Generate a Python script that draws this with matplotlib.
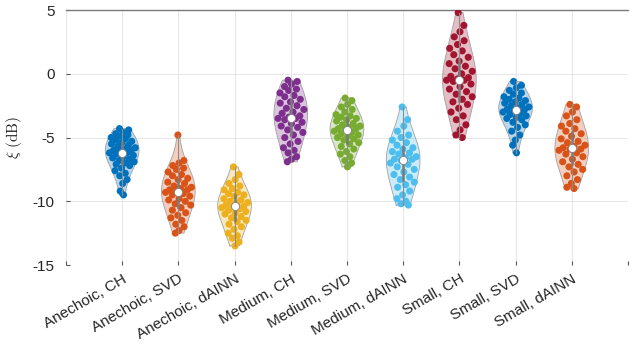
import numpy as np
from matplotlib import pyplot as plt

plt.rcParams['font.family'] = ['Liberation Sans', 'DejaVu Sans']
plt.rcParams['axes.unicode_minus'] = False
plt.rcParams['mathtext.fontset'] = 'cm'

categories = ['Anechoic, CH', 'Anechoic, SVD', 'Anechoic, dAINN',
              'Medium, CH', 'Medium, SVD', 'Medium, dAINN',
              'Small, CH', 'Small, SVD', 'Small, dAINN']

anechoic_ch = [-4.3, -4.4, -4.6, -4.7, -4.8, -4.9, -5.0, -5.1, -5.2, -5.3, -5.4, -5.5, -5.6,
               -5.7, -5.8, -5.9, -6.0, -6.0, -6.1, -6.2, -6.2, -6.3, -6.4, -6.5, -6.6, -6.7,
               -6.8, -6.9, -7.0, -7.1, -7.2, -7.4, -7.6, -7.8, -8.0, -8.3, -8.6, -9.2, -9.5]
anechoic_svd = [-4.8, -6.8, -7.0, -7.2, -7.4, -7.5, -7.7, -7.9, -8.0, -8.2, -8.3, -8.5, -8.6,
                -8.8, -8.9, -9.0, -9.1, -9.1, -9.2, -9.3, -9.4, -9.5, -9.6, -9.8, -9.9, -10.0,
                -10.2, -10.3, -10.5, -10.7, -10.9, -11.1, -11.3, -11.5, -11.8, -12.0, -12.3, -12.5]
anechoic_dainn = [-7.3, -7.9, -8.3, -8.6, -8.8, -9.0, -9.1, -9.3, -9.4, -9.5, -9.6, -9.8, -9.9,
                  -10.0, -10.1, -10.2, -10.3, -10.4, -10.4, -10.5, -10.6, -10.7, -10.8, -10.9,
                  -11.0, -11.2, -11.3, -11.5, -11.6, -11.8, -12.0, -12.2, -12.5, -12.7, -12.9,
                  -13.2, -13.5]
medium_ch = [-0.5, -0.6, -0.8, -1.0, -1.2, -1.3, -1.5, -1.7, -1.8, -2.0, -2.2, -2.3, -2.5,
             -2.7, -2.8, -3.0, -3.1, -3.3, -3.4, -3.5, -3.5, -3.6, -3.8, -3.9, -4.1, -4.2,
             -4.4, -4.6, -4.8, -5.0, -5.3, -5.5, -5.8, -6.0, -6.2, -6.5, -6.7, -6.9]
medium_svd = [-1.9, -2.1, -2.4, -2.6, -2.8, -3.0, -3.2, -3.3, -3.4, -3.5, -3.6, -3.7, -3.9,
              -4.0, -4.1, -4.2, -4.3, -4.3, -4.4, -4.5, -4.6, -4.7, -4.8, -4.9, -5.0, -5.1,
              -5.2, -5.4, -5.5, -5.7, -5.9, -6.1, -6.3, -6.5, -6.8, -7.0, -7.3]
medium_dainn = [-2.6, -3.6, -4.1, -4.5, -4.8, -5.0, -5.2, -5.4, -5.6, -5.8, -5.9, -6.1, -6.2,
                -6.3, -6.5, -6.6, -6.7, -6.7, -6.8, -7.0, -7.1, -7.3, -7.5, -7.7, -7.9, -8.1,
                -8.3, -8.5, -8.7, -8.9, -9.2, -9.5, -9.8, -10.0, -10.2, -10.3]
small_ch = [4.8, 3.8, 3.3, 2.9, 2.6, 2.3, 2.0, 1.8, 1.5, 1.3, 1.0, 0.8, 0.6, 0.4, 0.2, 0.0,
            -0.2, -0.3, -0.4, -0.5, -0.5, -0.6, -0.8, -1.0, -1.2, -1.4, -1.6, -1.8, -2.0,
            -2.2, -2.4, -2.7, -3.0, -3.3, -3.6, -4.0, -4.4, -4.8, -5.0]
small_svd = [-0.6, -0.9, -1.1, -1.3, -1.5, -1.6, -1.8, -1.9, -2.0, -2.1, -2.2, -2.3, -2.4,
             -2.5, -2.6, -2.7, -2.8, -2.8, -2.9, -3.0, -3.1, -3.2, -3.3, -3.4, -3.5, -3.6,
             -3.8, -4.0, -4.2, -4.5, -4.8, -5.2, -5.6, -6.2]
small_dainn = [-2.4, -2.6, -3.0, -3.3, -3.6, -3.9, -4.1, -4.3, -4.5, -4.7, -4.9, -5.1, -5.3,
               -5.4, -5.6, -5.7, -5.8, -5.9, -5.9, -6.0, -6.2, -6.3, -6.5, -6.7, -6.9, -7.1,
               -7.3, -7.5, -7.7, -8.0, -8.3, -8.6, -8.9, -9.0]

groups = [anechoic_ch, anechoic_svd, anechoic_dainn, medium_ch, medium_svd, medium_dainn,
          small_ch, small_svd, small_dainn]
colors = ['#0072BD', '#D95319', '#EDB120', '#7E2F8E', '#77AC30', '#4DBEEE',
          '#A2142F', '#0072BD', '#D95319']


def kde(values, grid, bw_factor=1.35):
    """ Gaussian kernel density with a widened Silverman bandwidth. """
    bw = bw_factor * 1.06 * np.std(values) * len(values) ** (-1 / 5)
    d = (grid[:, None] - values[None, :]) / bw
    return np.exp(-0.5 * d ** 2).sum(axis=1)


def violin(ax, pos, values, color, width=0.3):
    values = np.asarray(values, dtype=float)
    grid = np.linspace(values.min(), values.max(), 200)
    dens = kde(values, grid)
    scale = width / dens.max()
    half = dens * scale
    ax.fill_betweenx(grid, pos - half, pos + half, facecolor=color, alpha=0.28,
                     edgecolor='none', zorder=2)
    ax.plot(np.r_[pos - half, (pos + half)[::-1], pos - half[0]],
            np.r_[grid, grid[::-1], grid[0]], color='#a0a0a0', lw=0.6, zorder=2)

    # deterministic spread of the points inside the density
    order = np.arange(len(values))
    u = ((order * 0.6180339887 + 0.31) % 1.0) * 2 - 1
    offs = kde(values, values) * scale * u * 0.85
    ax.scatter(pos + offs, values, s=26, color=color, edgecolors='none', zorder=3)

    q1, med, q3 = np.percentile(values, [25, 50, 75])
    ax.plot([pos, pos], [values.min(), values.max()], color='#8c8c8c', lw=0.8, zorder=4)
    ax.plot([pos, pos], [q1, q3], color='#7a7a7a', lw=1.8, zorder=4)
    ax.scatter([pos], [med], s=34, color='white', edgecolors='#808080', linewidths=0.6,
               zorder=5)


fig = plt.figure(figsize=(6.34, 3.48), dpi=100)
ax = fig.add_axes([0.104, 0.2385, 0.8865, 0.7325])

for i, (vals, c) in enumerate(zip(groups, colors)):
    violin(ax, i + 1, vals, c)

ax.set_xlim(0, 10)
ax.set_ylim(-15, 5)
ax.set_xticks(np.arange(0, 11))
ax.set_xticklabels([''] + categories + [''], rotation=30, ha='right',
                   rotation_mode='anchor', fontsize=11, color='#262626')
ax.set_yticks([-15, -10, -5, 0, 5])
ax.tick_params(axis='both', direction='in', length=3, color='#555555', labelsize=11,
               labelcolor='#262626')
ax.tick_params(axis='y', pad=8)
ax.tick_params(axis='x', pad=5)
ax.grid(True, color='#e6e6e6', lw=0.7, zorder=0)
ax.set_axisbelow(True)
for side in ['left', 'bottom', 'right']:
    ax.spines[side].set_visible(False)
ax.spines['top'].set_color('#7a7a7a')
ax.spines['top'].set_linewidth(1.0)
ax.set_ylabel(r'$\xi\ (\mathrm{dB})$', fontsize=11, color='#262626', labelpad=6)

fig.savefig('out.png', dpi=100)
